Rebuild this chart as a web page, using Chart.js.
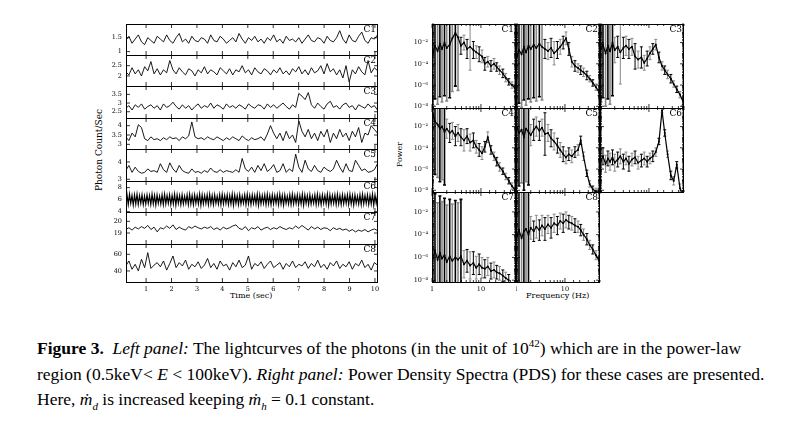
<!DOCTYPE html>
<html>
<head>
<meta charset="utf-8">
<script src="https://cdn.jsdelivr.net/npm/chart.js@4/dist/chart.umd.min.js"></script>
<style>
  body { margin: 0; background: #fff; width: 794px; height: 435px; position: relative; overflow: hidden; }
  canvas { position: absolute; }
  .lbl { position: absolute; font-family: "DejaVu Serif", serif; font-size: 8px; color: #000; white-space: nowrap; }
  .caption { position: absolute; left: 37px; top: 336px; font-family: "Liberation Serif", serif; font-size: 17.5px; line-height: 25.5px; color: #000; white-space: nowrap; }
  .caption sup, .caption sub { font-size: 11px; line-height: 0; }
</style>
</head>
<body>
<div class="lbl" style="left:58px;top:145px;transform:rotate(-90deg);font-size:9px;">Photon Count/Sec</div>
<div class="lbl" style="left:230px;top:291px;">Time (sec)</div>
<div class="lbl" style="left:387px;top:150px;transform:rotate(-90deg);">Power</div>
<div class="lbl" style="left:526px;top:291px;">Frequency (Hz)</div>
<div class="caption">
<b>Figure 3.</b>&nbsp; <i>Left panel:</i> The lightcurves of the photons (in the unit of 10<sup>42</sup>) which are in the power-law<br>
region (0.5keV&lt; <i>E</i> &lt; 100keV). <i>Right panel:</i> Power Density Spectra (PDS) for these cases are presented.<br>
Here, <i>ṁ<sub>d</sub></i> is increased keeping <i>ṁ<sub>h</sub></i> = 0.1 constant.
</div>
<script>
// ---- lightcurves (time from 0.2 to 10.1 sec, evenly sampled) ----
const lcStart = 0.2, lcEnd = 10.1;
const c1Counts = [1.40,1.55,1.30,1.45,1.60,1.35,1.25,1.50,1.40,1.30,1.55,1.45,1.35,1.60,1.40,1.30,1.50,1.65,1.35,1.45,1.30,1.55,1.40,1.35,1.50,1.45,1.30,1.60,1.40,1.35,1.55,1.45,1.30,1.40,1.50,1.35,1.65,1.45,1.30,1.50,1.40,1.55,1.35,1.45,1.30,1.50,1.40,1.60,1.35,1.45,1.30,1.55,1.40,1.45,1.35,1.50,1.30,1.45,1.60,1.40,1.35,1.50,1.45,1.30,1.55,1.40,1.35,1.50,1.75,1.45,1.30,1.60,1.40,1.35,1.55,1.70,1.40,1.30,1.50,1.45,1.60];
const c2Counts = [2.20,2.05,2.40,2.10,2.30,2.00,2.45,2.25,2.70,2.10,2.35,2.05,2.30,2.15,2.75,2.30,2.10,2.40,2.20,2.05,2.35,2.25,2.00,2.30,2.15,2.45,2.10,2.30,2.20,2.05,2.40,2.25,2.10,2.35,2.05,2.30,2.20,2.50,2.15,2.30,2.05,2.40,2.20,2.10,2.35,2.25,2.05,2.30,2.15,2.40,2.10,2.25,2.05,2.35,2.20,2.45,2.10,2.30,2.05,2.40,2.15,2.25,2.50,2.10,2.60,2.20,2.35,2.05,2.30,1.90,2.50,1.70,2.30,2.10,2.45,2.20,2.05,2.75,2.15,2.40,2.25];
const c3Counts = [2.70,2.85,2.60,2.90,2.75,2.95,2.65,2.80,2.90,2.70,2.85,2.60,2.95,2.75,2.85,3.05,2.80,2.65,2.90,2.70,2.85,2.60,2.80,2.95,2.70,2.85,2.75,3.00,2.70,2.90,2.80,2.65,2.95,2.75,2.85,2.70,2.90,2.80,2.65,2.95,2.80,2.70,2.90,2.85,2.65,2.95,2.75,2.90,2.70,2.85,3.00,2.80,2.65,2.90,2.75,3.55,3.40,3.20,3.60,2.90,2.70,3.00,2.80,2.65,2.95,3.10,2.75,2.85,2.65,2.90,3.00,2.75,2.85,2.60,2.90,2.80,2.70,2.95,2.75,2.85,2.60];
const c4Counts = [3.40,3.20,3.60,3.40,4.05,3.90,3.30,3.20,3.40,3.25,3.30,3.20,3.35,3.25,3.40,3.30,3.35,3.20,3.40,3.30,3.45,4.20,3.40,3.30,3.35,3.25,3.40,3.30,3.25,3.40,3.30,3.20,3.35,3.25,3.40,3.30,3.20,3.45,3.30,3.20,3.35,3.25,3.30,3.40,3.20,3.55,4.00,3.60,3.30,3.60,3.20,3.70,3.30,3.50,3.10,4.25,3.70,3.40,3.80,3.30,3.60,3.20,3.70,3.40,3.80,3.10,3.60,3.30,3.80,3.40,3.60,3.20,3.70,3.40,3.90,3.10,3.60,3.50,4.00,3.80,3.60];
const c5Counts = [3.50,3.80,3.40,3.70,3.45,3.35,3.40,3.60,3.45,3.50,3.40,3.90,3.55,3.40,3.95,3.60,3.40,3.80,3.50,3.40,3.35,3.60,3.40,3.45,3.35,3.50,3.40,3.65,3.45,3.40,3.55,3.40,3.50,3.45,3.40,3.55,3.40,4.20,3.60,3.45,3.70,3.40,3.80,3.50,3.90,3.45,3.60,3.85,3.40,3.50,3.90,3.40,3.60,3.45,4.45,3.70,3.40,4.10,3.60,3.45,3.80,3.50,3.40,3.70,3.55,3.45,3.60,4.10,3.70,3.40,3.90,3.50,3.45,4.10,3.80,3.50,3.60,3.40,3.45,3.55,3.90];
const c6Counts = [5.3,6.8,5.2,6.9,5.4,6.7,5.1,6.8,5.3,6.9,5.2,6.7,5.4,6.8,5.2,6.6,5.3,6.8,5.4,6.7,5.2,6.9,5.3,6.7,5.1,6.8,5.4,6.6,5.3,6.8,5.2,6.9,5.3,6.7,5.4,6.8,5.2,6.7,5.3,6.9,5.1,6.8,5.4,6.7,5.2,6.8,5.3,6.6,5.4,6.8,5.2,6.9,5.3,6.7,5.2,6.8,5.4,6.7,5.3,6.9,5.1,6.8,5.3,6.7,5.4,6.8,5.2,6.9,5.3,6.7,5.2,6.8,5.4,6.6,5.3,6.8,5.2,6.9,5.3,6.7,5.4,6.8,5.2,6.7,5.3,6.9,5.1,6.8,5.4,6.7,5.2,6.8,5.3,6.6,5.4,6.8,5.2,6.9,5.3,6.7,5.2,6.8,5.4,6.7,5.3,6.9,5.1,6.8,5.3,6.7,5.4,6.8,5.2,6.9,5.3,6.7,5.2,6.8,5.3,6.7,5.4,6.8,5.2,6.9,5.3,6.7,5.1,6.8,5.4,6.6,5.3,6.8,5.2,6.9,5.3,6.7,5.4,6.8,5.2,6.7,5.3,6.9,5.1,6.8,5.4,6.7,5.2,6.8,5.3,6.6,5.4,6.8,5.2,6.9,5.3,6.7,5.2,6.8,5.4,6.7,5.3,6.9,5.1,6.8,5.3,6.7,5.4,6.8,5.2,6.9,5.3,6.7,5.2,6.8,5.3,6.7,5.4,6.8,5.2,6.9,5.3,6.7,5.1,6.8,5.4,6.6,5.3,6.8,5.2,6.9,5.3,6.7,5.4,6.8,5.2,6.7,5.3,6.9,5.1,6.8,5.4,6.7];
const c7Counts = [19.30,19.45,19.25,19.50,19.35,19.55,19.40,19.65,19.30,19.50,19.10,19.45,19.35,19.60,19.40,19.70,19.30,19.50,19.35,19.25,19.55,19.40,19.60,19.45,19.35,19.50,19.40,19.55,19.30,19.45,19.25,19.50,19.35,19.45,19.60,19.70,19.40,19.30,19.55,19.20,19.45,19.35,19.55,19.25,19.40,19.50,19.30,19.45,19.35,19.55,19.40,19.30,19.45,19.35,19.60,19.40,19.65,19.45,19.25,19.55,19.35,19.50,19.30,19.45,19.40,19.20,19.45,19.30,19.40,19.25,19.35,19.15,19.30,19.10,19.25,19.15,19.30,19.10,19.25,19.35,19.20];
const c8Counts = [46,52,42,48,40,54,44,62,43,47,50,45,52,41,49,58,44,50,46,53,42,48,45,51,43,47,55,44,49,42,52,46,48,41,50,45,53,44,47,58,42,49,46,51,43,48,52,44,47,50,42,49,45,52,44,48,46,51,43,49,45,53,44,48,42,50,46,52,43,48,45,51,42,49,46,53,44,48,41,50,47];
const lcNames = ['C1','C2','C3','C4','C5','C6','C7','C8'];
const lcMin = [0.88, 1.51, 2.14, 2.75, 2.90, 3.95, 18.06, 26.7];
const lcMax = [1.99, 3.02, 3.98, 4.41, 4.75, 9.10, 20.80, 72.4];
const lcTicks = [[1,1.5],[2,2.5],[2.5,3,3.5],[3,3.5,4],[3,3.5,4,4.5],[4,6,8],[19,20],[40,60]];
const timeTicks = [1,2,3,4,5,6,7,8,9,10];

// ---- power density spectra (log10 of power, error half-length in decades) ----
const freqs = [1.05,1.15,1.3,1.45,1.6,1.8,2.0,2.3,2.6,3.0,3.4,3.9,4.5,5.2,6,7,8,9.2,10.5,12,13.8,16,18.5,21,24,28,32,37,43,50];
const c1Pow = [-2.9,-2.3,-2.8,-2.1,-2.6,-2.0,-2.5,-2.2,-1.6,-1.1,-1.5,-2.3,-2.0,-2.6,-2.4,-2.7,-2.9,-3.1,-3.3,-4.0,-3.8,-4.2,-4.0,-4.3,-4.6,-4.9,-5.3,-5.7,-6.0,-6.3];
const c1Err = [5,5,5,5,5,5,5,5,5,5,5,0.8,0.7,0.9,2.2,0.8,0.6,0.7,0.6,0.6,0.5,0.5,0.5,0.4,0.4,0.4,0.4,0.3,0.3,0.3];
const c2Pow = [-3.3,-2.7,-3.1,-2.4,-2.9,-2.3,-2.6,-2.2,-2.5,-2.1,-2.4,-2.6,-2.8,-2.5,-3.0,-2.7,-2.4,-2.0,-1.6,-2.6,-3.8,-4.2,-4.4,-4.6,-4.8,-5.1,-5.4,-5.8,-6.2,-6.7];
const c2Err = [5,5,5,5,5,5,5,5,5,5,5,0.9,0.8,0.9,1.1,0.8,0.7,0.6,0.6,0.6,0.5,0.5,0.4,0.4,0.4,0.4,0.3,0.3,0.3,0.3];
const c3Pow = [-2.6,-2.2,-3.0,-2.3,-2.8,-2.0,-2.7,-2.4,-2.9,-2.5,-2.3,-2.6,-2.4,-3.3,-3.6,-3.4,-3.9,-3.5,-3.0,-2.6,-2.2,-3.4,-4.2,-4.6,-5.0,-5.4,-5.9,-6.4,-6.9,-7.6];
const c3Err = [5,5,5,5,5,5,1.2,1.0,3,1.0,0.9,0.9,0.8,1.2,0.8,1.0,0.7,0.7,0.6,0.5,0.5,0.5,0.4,0.4,0.4,0.4,0.3,0.3,0.3,0.3];
const c4Pow = [-0.8,-1.5,-1.8,-2.2,-2.0,-2.5,-2.2,-2.6,-2.4,-2.9,-2.6,-3.0,-3.3,-2.9,-3.5,-3.3,-3.9,-4.2,-4.5,-3.9,-3.0,-4.2,-4.8,-5.3,-5.8,-6.2,-6.7,-7.1,-7.6,-8.0];
const c4Err = [5,5,5,5,5,5,0.9,0.9,0.8,0.9,0.8,0.8,1.0,0.7,0.8,0.7,0.6,0.6,0.6,0.5,0.5,0.4,0.4,0.4,0.4,0.3,0.3,0.3,0.3,0.3];
const c5Pow = [-2.0,-2.6,-2.3,-3.0,-2.2,-2.5,-2.8,-2.3,-2.0,-2.4,-2.1,-2.7,-2.6,-3.1,-3.4,-3.8,-4.2,-4.6,-4.9,-4.6,-4.8,-4.4,-4.2,-3.3,-4.8,-6.4,-7.4,-7.9,-8.1,-8.2];
const c5Err = [5,5,5,5,5,5,1.0,1.0,0.9,0.9,0.8,2,0.8,0.8,0.8,0.7,0.7,0.7,0.6,0.6,0.6,0.5,0.5,0.4,0.4,0.3,0.3,0.3,0.3,0.3];
const c6Pow = [-5.2,-4.8,-5.5,-5.0,-5.3,-4.9,-5.4,-5.1,-4.8,-5.3,-5.0,-5.5,-5.1,-4.9,-5.4,-5.2,-5.0,-5.3,-5.0,-4.8,-4.4,-3.4,-0.5,-2.6,-4.6,-6.6,-7.1,-5.6,-7.8,-8.6];
const c6Err = [0.7,0.8,0.8,0.7,0.8,0.7,0.8,0.7,0.7,0.7,0.6,0.7,0.6,0.6,0.6,0.6,0.6,0.5,0.5,0.5,0.4,0.3,0.2,0.3,0.3,0.4,0.4,0.3,0.4,0.4];
const c7Pow = [-6.0,-5.4,-6.2,-5.6,-6.1,-5.8,-6.4,-5.9,-6.3,-6.0,-6.2,-5.9,-6.6,-6.3,-6.7,-6.5,-6.9,-6.6,-6.9,-7.0,-6.8,-7.2,-7.1,-7.3,-7.4,-7.6,-7.8,-8.0,null,null];
const c7Err = [5,5,5,5,5,5,5,5,5,5,5,5,1.2,1.0,1.2,1.0,1.0,0.9,0.9,0.8,0.8,0.7,0.7,0.6,0.6,0.5,0.5,0.5,0,0];
const c8Pow = [-4.1,-3.6,-4.3,-3.7,-3.5,-4.0,-3.4,-3.7,-3.3,-3.6,-3.2,-3.5,-3.1,-3.4,-3.0,-3.2,-2.8,-3.0,-2.7,-2.9,-3.0,-3.2,-3.3,-3.6,-4.0,-4.4,-4.9,-5.3,-5.8,-6.3];
const c8Err = [5,5,5,5,5,5,1.0,0.9,1.0,0.9,0.9,1.0,0.8,0.9,0.8,0.8,0.7,0.8,0.7,0.6,0.6,0.6,0.5,0.5,0.5,0.5,0.4,0.4,0.4,0.4];
const pdsNames = ['C1','C2','C3','C4','C5','C6','C7','C8'];
const powerLabelExps = [-2,-4,-6,-8];
const freqLabels = [1,10];

const lcCounts = [c1Counts,c2Counts,c3Counts,c4Counts,c5Counts,c6Counts,c7Counts,c8Counts];
const pdsPow = [c1Pow,c2Pow,c3Pow,c4Pow,c5Pow,c6Pow,c7Pow,c8Pow];
const pdsErr = [c1Err,c2Err,c3Err,c4Err,c5Err,c6Err,c7Err,c8Err];

const tickFont = { family: 'DejaVu Serif', size: 6.5 };
const noGrid = { display: false, drawTicks: false, tickLength: 0 };
const supers = { '-': '⁻', '0': '⁰', '1': '¹', '2': '²', '3': '³', '4': '⁴', '5': '⁵', '6': '⁶', '7': '⁷', '8': '⁸', '9': '⁹' };

// fixed axis sizes, no extra scale padding, so panels line up exactly
function fixSize(w, h) {
    return s => {
        if (w !== null) s.width = w;
        if (h !== null) s.height = h;
        s.paddingTop = s.paddingBottom = s.paddingLeft = s.paddingRight = 0;
    };
}

// frame, inward ticks and panel name
const framePlugin = {
    id: 'frame',
    afterDraw(chart, args, opts) {
        const ctx = chart.ctx, a = chart.chartArea;
        ctx.save();
        ctx.strokeStyle = '#000';
        ctx.lineWidth = 1;
        ctx.strokeRect(a.left + 0.5, a.top + 0.5, a.right - a.left - 1, a.bottom - a.top);
        ctx.lineWidth = 0.8;
        ['x', 'y'].forEach(id => {
            const s = chart.scales[id];
            s.ticks.forEach(t => {
                const p = s.getPixelForValue(t.value);
                const major = t.label !== '' && t.label !== undefined;
                const len = major ? 4 : 2;
                ctx.beginPath();
                if (id === 'x') {
                    if (p < a.left || p > a.right) return;
                    ctx.moveTo(p, a.bottom); ctx.lineTo(p, a.bottom - len);
                    ctx.moveTo(p, a.top); ctx.lineTo(p, a.top + len);
                } else {
                    if (p < a.top || p > a.bottom) return;
                    ctx.moveTo(a.left, p); ctx.lineTo(a.left + len, p);
                    ctx.moveTo(a.right, p); ctx.lineTo(a.right - len, p);
                }
                ctx.stroke();
            });
        });
        ctx.fillStyle = '#000';
        ctx.font = '9px "DejaVu Serif"';
        ctx.textAlign = 'right';
        ctx.textBaseline = 'top';
        ctx.fillText(opts.name, a.right - 2, a.top + 1);
        ctx.restore();
    }
};

// error bars from the data's own scales
const errorPlugin = {
    id: 'errbars',
    beforeDatasetsDraw(chart, args, opts) {
        if (!opts.errs) return;
        const ctx = chart.ctx, a = chart.chartArea;
        const xs = chart.scales.x, ys = chart.scales.y;
        ctx.save();
        ctx.beginPath();
        ctx.rect(a.left, a.top, a.right - a.left, a.bottom - a.top);
        ctx.clip();
        opts.pow.forEach((v, i) => {
            if (v === null) return;
            const x = xs.getPixelForValue(freqs[i]);
            const y1 = ys.getPixelForValue(Math.pow(10, v + opts.errs[i]));
            const y2 = ys.getPixelForValue(Math.pow(10, v - opts.errs[i]));
            ctx.strokeStyle = i % 2 ? '#000' : '#888';
            ctx.lineWidth = opts.errs[i] > 3 ? 1.6 : 1;
            ctx.beginPath();
            ctx.moveTo(x, y1); ctx.lineTo(x, y2);
            ctx.moveTo(x - 1.5, y1); ctx.lineTo(x + 1.5, y1);
            ctx.moveTo(x - 1.5, y2); ctx.lineTo(x + 1.5, y2);
            ctx.stroke();
        });
        ctx.restore();
    }
};

function addCanvas(left, top, w, h) {
    const c = document.createElement('canvas');
    c.width = w; c.height = h;
    c.style.left = left + 'px'; c.style.top = top + 'px';
    c.style.width = w + 'px'; c.style.height = h + 'px';
    document.body.appendChild(c);
    return c;
}

// ---- left panel ----
const lcEdges = [24, 55, 86, 118, 149, 181, 212, 244, 276];
const lcLeft = 126, lcWidth = 252, yAxisW = 26, pad = 6;
lcCounts.forEach((counts, i) => {
    const last = i === lcCounts.length - 1;
    const h = lcEdges[i + 1] - lcEdges[i];
    const xAxisH = last ? 14 : 0;
    const cv = addCanvas(lcLeft - yAxisW, lcEdges[i] - pad, lcWidth + yAxisW + pad, h + pad * 2 + xAxisH);
    const pts = counts.map((v, k) => ({ x: lcStart + k * (lcEnd - lcStart) / (counts.length - 1), y: v }));
    new Chart(cv, {
        type: 'line',
        data: { datasets: [{ data: pts, borderColor: '#000', borderWidth: i === 5 ? 1.2 : 0.9, pointRadius: 0, tension: 0 }] },
        options: {
            responsive: false, animation: false, devicePixelRatio: 1,
            layout: { autoPadding: false, padding: { top: pad, bottom: last ? 0 : pad, left: 0, right: pad } },
            plugins: { legend: { display: false }, tooltip: { enabled: false }, frame: { name: lcNames[i] } },
            scales: {
                x: {
                    type: 'linear', min: 0.21, max: 10.12,
                    afterBuildTicks: s => { s.ticks = timeTicks.map(v => ({ value: v })); },
                    ticks: { display: last, font: tickFont, color: '#000', padding: 3, maxRotation: 0, autoSkip: false },
                    grid: noGrid, border: { display: false },
                    afterFit: fixSize(null, xAxisH)
                },
                y: {
                    min: lcMin[i], max: lcMax[i],
                    afterBuildTicks: s => { s.ticks = lcTicks[i].map(v => ({ value: v })); },
                    ticks: { font: tickFont, color: '#000', padding: 4, callback: v => String(v) },
                    grid: noGrid, border: { display: false },
                    afterFit: fixSize(yAxisW, null)
                }
            }
        },
        plugins: [framePlugin]
    });
});

// ---- right panel ----
const cellX = [432, 516, 600], cellY = [24, 108, 192], cellW = 84, cellH = 84;
pdsPow.forEach((pow, i) => {
    const col = i % 3, row = Math.floor(i / 3);
    const yLab = col === 0;
    const showX = row === 2;
    const yw = yLab ? 30 : 0, xh = showX ? 14 : 0;
    const cv = addCanvas(cellX[col] - yw, cellY[row] - pad, cellW + yw + pad, cellH + pad * 2 + xh);
    new Chart(cv, {
        type: 'line',
        data: { datasets: [{ data: pow.map((v, k) => ({ x: freqs[k], y: v === null ? null : Math.pow(10, v) })),
            borderColor: '#000', borderWidth: 1.2, pointRadius: 1, pointBackgroundColor: '#000', pointBorderWidth: 0, tension: 0 }] },
        options: {
            responsive: false, animation: false, devicePixelRatio: 1,
            layout: { autoPadding: false, padding: { top: pad, bottom: showX ? 0 : pad, left: 0, right: pad } },
            plugins: { legend: { display: false }, tooltip: { enabled: false },
                frame: { name: pdsNames[i] }, errbars: { pow: pow, errs: pdsErr[i] } },
            scales: {
                x: {
                    type: 'logarithmic', min: 1, max: 52,
                    ticks: { display: showX, font: tickFont, color: '#000', padding: 3, maxRotation: 0, autoSkip: false,
                        callback: v => freqLabels.includes(v) ? String(v) : '' },
                    grid: noGrid, border: { display: false },
                    afterFit: fixSize(null, xh)
                },
                y: {
                    type: 'logarithmic', min: Math.pow(10, -8.16), max: Math.pow(10, -0.25),
                    ticks: { display: yLab, font: tickFont, color: '#000', padding: 4, autoSkip: false,
                        callback: v => {
                            const e = Math.round(Math.log10(v));
                            if (Math.abs(Math.log10(v) - e) > 1e-6 || !powerLabelExps.includes(e)) return '';
                            return '10' + String(e).split('').map(ch => supers[ch]).join('');
                        } },
                    grid: noGrid, border: { display: false },
                    afterFit: fixSize(yw, null)
                }
            }
        },
        plugins: [framePlugin, errorPlugin]
    });
});
</script>
</body>
</html>
